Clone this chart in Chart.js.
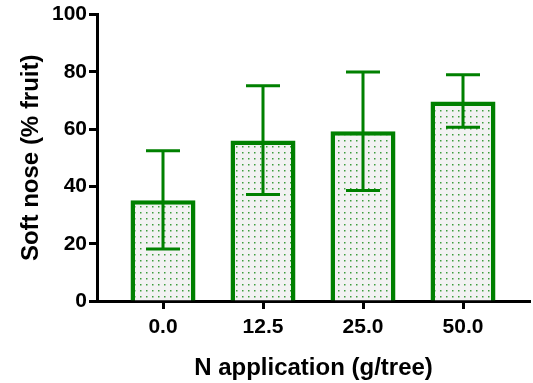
<!DOCTYPE html>
<html>
<head>
<meta charset="utf-8">
<script src="https://cdn.jsdelivr.net/npm/chart.js@4.4.1/dist/chart.umd.min.js"></script>
<style>
  html, body { margin: 0; padding: 0; background: #fff; }
  #wrap { width: 533px; height: 383px; position: relative; }
</style>
</head>
<body>
<div id="wrap"><canvas id="softNoseChart"></canvas></div>
<script>
// data
const categories = ["0.0", "12.5", "25.0", "50.0"];
const means = [35.2, 56, 59.3, 69.7];
const errUpper = [52.5, 75.2, 80, 79];
const errLower = [18.2, 37.2, 38.6, 60.7];
const yTicks = [0, 20, 40, 60, 80, 100];

const green = "#008000";
const fontFam = "'Liberation Sans', Arial, sans-serif";
const tickFont = { family: fontFam, size: 21, weight: "bold" };
const titleFont = { family: fontFam, size: 24, weight: "bold" };

// dotted fill like the original
function dotPattern() {
    const c = document.createElement("canvas");
    c.width = 6;
    c.height = 6;
    const g = c.getContext("2d");
    g.fillStyle = "#f2f2f2";
    g.fillRect(0, 0, 6, 6);
    g.fillStyle = "#3c9c3c";
    g.fillRect(2, 2, 1.5, 1.5);
    return g.createPattern(c, "repeat");
}

// error bars with caps
const errorBars = {
    id: "errorBars",
    afterDatasetsDraw(chart) {
        const ctx = chart.ctx;
        const xs = chart.scales.x;
        const ys = chart.scales.y;
        ctx.save();
        ctx.strokeStyle = green;
        ctx.lineWidth = 3;
        for (let i = 0; i < categories.length; i++) {
            const x = xs.getPixelForValue(i);
            const top = ys.getPixelForValue(errUpper[i]);
            const bot = ys.getPixelForValue(errLower[i]);
            ctx.beginPath();
            ctx.moveTo(x, top);
            ctx.lineTo(x, bot);
            ctx.moveTo(x - 17, top);
            ctx.lineTo(x + 17, top);
            ctx.moveTo(x - 17, bot);
            ctx.lineTo(x + 17, bot);
            ctx.stroke();
        }
        ctx.restore();
    },
};

const ctx = document.getElementById("softNoseChart").getContext("2d");
const softNoseChart = new Chart(ctx, {
    type: "bar",
    data: {
        datasets: [{
            data: categories.map((c, i) => ({ x: i, y: means[i] })),
            backgroundColor: dotPattern(),
            borderColor: green,
            borderWidth: 4.5,
            barPercentage: 0.65,
            categoryPercentage: 1,
        }],
    },
    options: {
        responsive: true,
        maintainAspectRatio: false,
        animation: false,
        layout: { padding: { top: 14, right: 3, left: 0, bottom: 0 } },
        plugins: { legend: { display: false }, tooltip: { enabled: false } },
        scales: {
            x: {
                type: "linear",
                offset: false,
                min: -0.66,
                max: 3.67,
                afterBuildTicks: (s) => { s.ticks = categories.map((c, i) => ({ value: i })); },
                afterFit: (s) => { s.height = 82; },
                ticks: {
                    color: "#000",
                    font: tickFont,
                    padding: 6,
                    callback: (v) => categories[v],
                },
                grid: { offset: false, drawOnChartArea: false, drawTicks: true, tickLength: 8, tickWidth: 3, tickColor: "#000" },
                border: { color: "#000", width: 3 },
                title: {
                    display: true,
                    text: "N application (g/tree)",
                    color: "#000",
                    font: titleFont,
                    padding: { top: 0, bottom: 0 },
                },
            },
            y: {
                min: 0,
                max: 100,
                afterBuildTicks: (s) => { s.ticks = yTicks.map((v) => ({ value: v })); },
                afterFit: (s) => { s.width = 97; },
                ticks: { color: "#000", font: tickFont, padding: 2 },
                grid: { drawOnChartArea: false, drawTicks: true, tickLength: 8, tickWidth: 3, tickColor: "#000" },
                border: { color: "#000", width: 3 },
                title: {
                    display: true,
                    text: "Soft nose (% fruit)",
                    color: "#000",
                    font: titleFont,
                    padding: { top: 17, bottom: 0 },
                },
            },
        },
    },
    plugins: [errorBars],
});
</script>
</body>
</html>
